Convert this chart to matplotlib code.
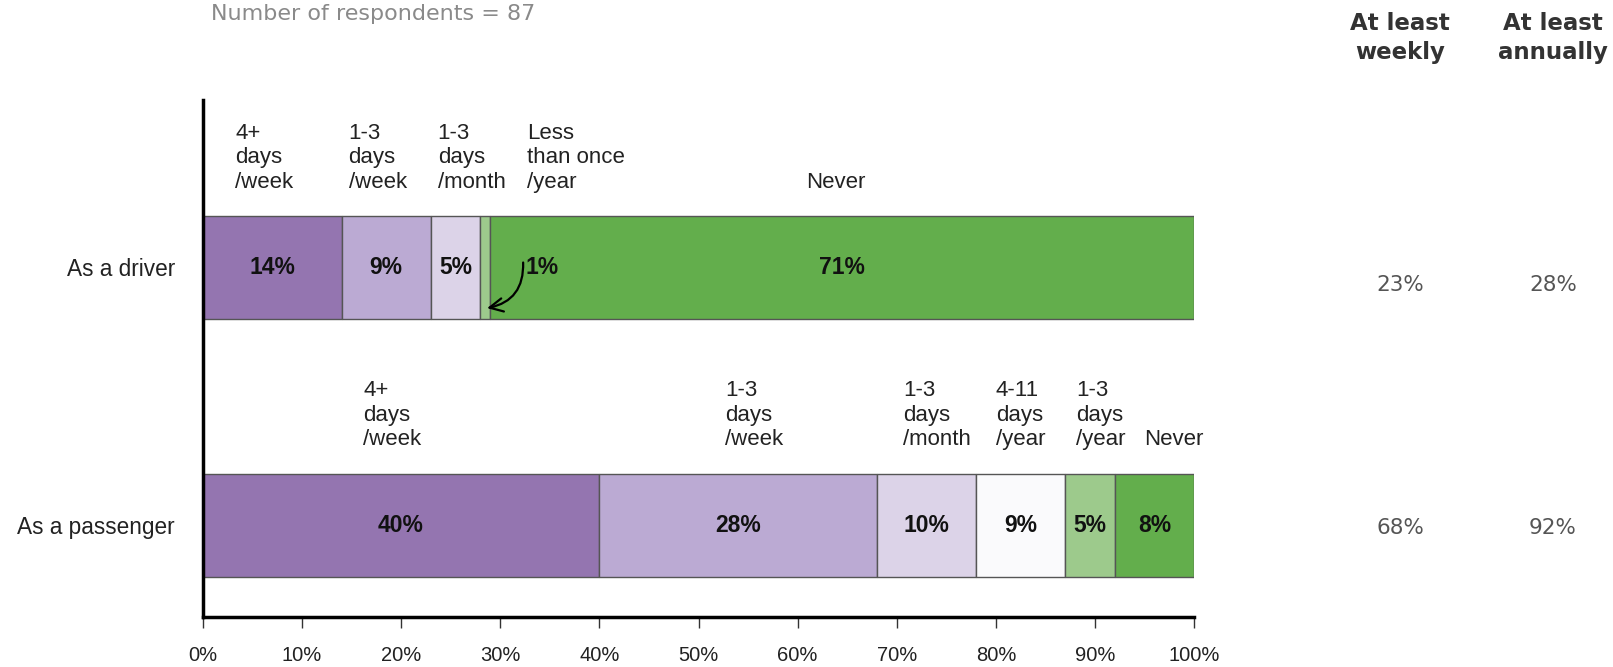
import matplotlib.pyplot as plt
import numpy as np

# Data
rows = ['As a passenger', 'As a driver']
driver_vals = [14, 9, 5, 1, 71]
driver_cats = ['4+\ndays\n/week', '1-3\ndays\n/week', '1-3\ndays\n/month',
               'Less\nthan once\n/year', 'Never']
passenger_vals = [40, 28, 10, 9, 5, 8]
passenger_cats = ['4+\ndays\n/week', '1-3\ndays\n/week', '1-3\ndays\n/month',
                  '4-11\ndays\n/year', '1-3\ndays\n/year', 'Never']
weekly = ['68%', '23%']
annually = ['92%', '28%']
n_resp = 87

# Styling
driver_colors = ['#9475b0', '#bbaad3', '#dcd3e8', '#9dca8c', '#63ae4c']
passenger_colors = ['#9475b0', '#bbaad3', '#dcd3e8', '#fafafc', '#9dca8c', '#63ae4c']
# label x positions (left edge, in % units)
driver_lbl_x = [3.3, 14.7, 23.7, 32.7, 63.8]
driver_lbl_ha = ['left', 'left', 'left', 'left', 'center']
passenger_lbl_x = [16.2, 52.7, 70.6, 80.0, 88.1, 94.9]

plt.rcParams['font.family'] = ['Liberation Sans', 'DejaVu Sans']

fig = plt.figure(figsize=(16.13, 6.67), dpi=100)
ax = fig.add_axes([0.1257, 0.075, 0.6147, 0.775])

bar_h = 0.4
y_pos = [0, 1]

def draw_row(y, vals, colors):
    left = 0
    for v, c in zip(vals, colors):
        ax.barh(y, v, left=left, height=bar_h, color=c, edgecolor='#555555', linewidth=1)
        left += v

draw_row(1, driver_vals, driver_colors)
draw_row(0, passenger_vals, passenger_colors)

# percentages inside bars
cum = np.cumsum([0] + driver_vals)
for i, v in enumerate(driver_vals):
    if v < 2:
        continue
    ax.text((cum[i] + cum[i + 1]) / 2, 1, f'{v}%', ha='center', va='center',
            fontsize=16.5, fontweight='bold', color='#111111')
# small 1% segment with arrow
ax.text(32.6, 1, f'{driver_vals[3]}%', ha='left', va='center',
        fontsize=16.5, fontweight='bold', color='#111111')
ax.annotate('', xy=(28.4, 1 - 0.16), xytext=(32.3, 1 + 0.03),
            arrowprops=dict(arrowstyle='->', color='black', lw=1.6,
                            connectionstyle='arc3,rad=-0.45', mutation_scale=24))

cum = np.cumsum([0] + passenger_vals)
for i, v in enumerate(passenger_vals):
    ax.text((cum[i] + cum[i + 1]) / 2, 0, f'{v}%', ha='center', va='center',
            fontsize=16.5, fontweight='bold', color='#111111')

# category labels above bars
for lbl, x, ha in zip(driver_cats, driver_lbl_x, driver_lbl_ha):
    ax.text(x, 1 + 0.29, lbl, ha=ha, va='bottom', fontsize=16,
            linespacing=1.22, color='#222222')
for lbl, x in zip(passenger_cats, passenger_lbl_x):
    ax.text(x, 0 + 0.29, lbl, ha='left', va='bottom', fontsize=16,
            linespacing=1.22, color='#222222')

# axes styling
ax.set_xlim(0, 100)
ax.set_ylim(-0.357, 1.65)
ax.set_yticks(y_pos)
ax.set_yticklabels(rows, fontsize=16.3, color='#222222')
ax.tick_params(axis='y', length=0, pad=20)
ax.set_xticks(np.arange(0, 101, 10))
ax.set_xticklabels([f'{t}%' for t in range(0, 101, 10)], fontsize=14.5, color='#222222')
ax.tick_params(axis='x', length=8, width=1, color='#333333', pad=13)
for spine in ['top', 'right']:
    ax.spines[spine].set_visible(False)
ax.spines['left'].set_linewidth(2.5)
ax.spines['bottom'].set_linewidth(2.5)

# header note
fig.text(211 / 1613, 1 - 14 / 667, f'Number of respondents = {n_resp}', ha='left', va='center',
         fontsize=16, color='#8a8a8a', family=['DejaVu Sans'])

# right summary columns
col_x = [1400 / 1613, 1553 / 1613]
heads = ['At least\nweekly', 'At least\nannually']
for x, h in zip(col_x, heads):
    fig.text(x, 1 - 38 / 667, h, ha='center', va='center', fontsize=16.5, fontweight='bold',
             color='#333333', linespacing=1.35, family=['DejaVu Sans'])
for x, col in zip(col_x, [weekly, annually]):
    for y, val in zip(y_pos, col):
        yy = ax.transData.transform((0, y))[1] / fig.dpi / 6.67
        fig.text(x, yy - (18 if y == 1 else 3) / 667, val, ha='center', va='center',
                 fontsize=15.5, color='#555555', family=['DejaVu Sans'])

fig.savefig('out.png', dpi=100)
